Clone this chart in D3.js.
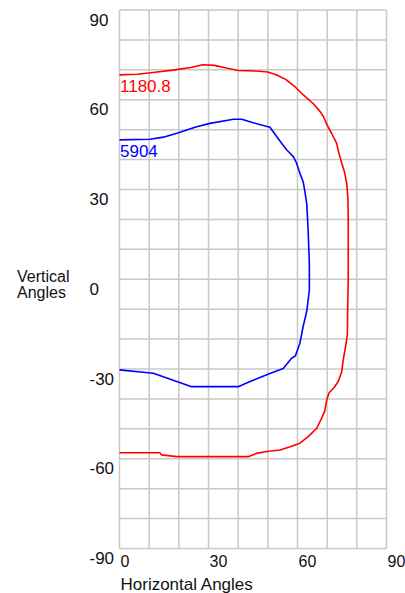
<!DOCTYPE html>
<html>
<head>
<meta charset="utf-8">
<script src="https://cdn.jsdelivr.net/npm/d3@7"></script>
<style>
  html, body { margin: 0; padding: 0; background: #fff; }
  svg { display: block; }
  text { font-family: "Liberation Sans", Arial, sans-serif; font-size: 17px; fill: #111; }
</style>
</head>
<body>
<svg id="chart" width="405" height="593"></svg>
<script>
// ---- data ----
const xTicks = [0, 30, 60, 90];
const yTicks = [90, 60, 30, 0, -30, -60, -90];
const xLabel = "Horizontal Angles";
const yLabel = ["Vertical", "Angles"];
const seriesNames = ["1180.8", "5904"];
const seriesColors = ["#ff0000", "#0000ff"];

const redH = [0, 6, 12, 18, 24, 28, 32, 36, 40, 46, 50, 53, 56, 59, 61, 63.5, 65.5, 67.5, 68.7, 70, 71.5, 73.2, 74, 75, 75.8, 76.6, 77, 77.1, 77.1, 76.9, 76.8, 76.2, 75.4, 74.9, 73.8, 72.5, 70.6, 69.8, 69.2, 68.1, 66.5, 63.6, 60.8, 57.5, 54.1, 49.6, 46.2, 43.4, 19.3, 14.2, 13.6, 0];
const redV = [68.3, 68.5, 69.2, 69.9, 70.8, 71.7, 71.5, 70.6, 69.8, 69.6, 69.3, 68.3, 66.8, 64.5, 62.5, 60.3, 58.5, 56.2, 54.5, 51.5, 48.8, 45.4, 42, 38.5, 36, 32, 27, 20, 0, -10, -18.6, -22.5, -27, -30.9, -34, -36, -38, -40.5, -44, -46.5, -49.8, -52.6, -54.8, -56, -57.1, -57.6, -58.2, -59.3, -59.3, -58.7, -58, -58];

const blueH = [0, 10.3, 14.8, 19.3, 26, 30.5, 38.4, 41.2, 45.1, 50.7, 51.8, 54.7, 56.4, 58.6, 59.7, 60.8, 61.9, 62.5, 63.1, 63.4, 63.6, 64, 64, 63.1, 61.9, 60.8, 59.3, 58, 55.2, 50.7, 44, 40, 24.3, 19.3, 11.4, 8, 0];
const blueV = [46.6, 46.8, 47.5, 48.8, 51, 52.1, 53.5, 53.5, 52.3, 50.8, 49.3, 45.4, 43.2, 41, 38.8, 35.4, 32.6, 29.3, 25.4, 20, 15.9, 5, -3.6, -10.8, -15.8, -21.4, -25.6, -26.4, -29.8, -31.5, -34.2, -35.9, -35.9, -34.2, -31.4, -31.1, -30.3];

const seriesH = [redH, blueH];
const seriesV = [redV, blueV];

// ---- layout ----
const svg = d3.select("#chart");
const x = d3.scaleLinear().domain([0, 90]).range([119.5, 386.5]);
const y = d3.scaleLinear().domain([-90, 90]).range([548.5, 10]);
const fmt = d => String(d);

// grid
const grid = svg.append("g");
grid.selectAll("line.v").data(d3.range(0, 91, 10)).join("line")
  .attr("x1", d => x(d)).attr("x2", d => x(d))
  .attr("y1", y(90)).attr("y2", y(-90))
  .attr("stroke", "#c8c8c8").attr("stroke-width", 1.5);
grid.selectAll("line.h").data(d3.range(-90, 91, 10)).join("line")
  .attr("y1", d => y(d)).attr("y2", d => y(d))
  .attr("x1", x(0)).attr("x2", x(90))
  .attr("stroke", "#c8c8c8").attr("stroke-width", 1.5);

// axes (tick labels only)
const xAxis = d3.axisBottom(x).tickValues(xTicks).tickFormat(fmt).tickSize(0).tickPadding(0);
const gx = svg.append("g").attr("transform", `translate(0,${y(-90)})`).call(xAxis);
gx.select(".domain").remove();
gx.selectAll("text").attr("text-anchor", "start").attr("dx", 0.5).attr("dy", 0).attr("y", 18)
  .style("font-family", "Liberation Sans, Arial, sans-serif").style("font-size", "16px").attr("fill", "#111");

const yAxis = d3.axisLeft(y).tickValues(yTicks).tickFormat(fmt).tickSize(0).tickPadding(0);
const gy = svg.append("g").attr("transform", `translate(${x(0)},0)`).call(yAxis);
gy.select(".domain").remove();
gy.selectAll("text").attr("text-anchor", "start").attr("x", 89.5 - x(0)).attr("dy", 0).attr("y", 15)
  .style("font-family", "Liberation Sans, Arial, sans-serif").style("font-size", "17px").attr("fill", "#111");

// axis titles
svg.append("text").attr("x", 120.5).attr("y", 590).text(xLabel);
svg.append("text").attr("x", 17).attr("y", 282).style("font-size", "16px").text(yLabel[0]);
svg.append("text").attr("x", 17).attr("y", 298).style("font-size", "16px").text(yLabel[1]);

// curves
const line = d3.line().x(d => x(d[0])).y(d => y(d[1]));
seriesH.forEach((hs, i) => {
  const pts = hs.map((h, k) => [h, seriesV[i][k]]);
  svg.append("path").datum(pts).attr("d", line)
    .attr("fill", "none").attr("stroke", seriesColors[i]).attr("stroke-width", 1.6)
    .attr("stroke-linejoin", "round");
  svg.append("text").attr("x", x(hs[0]) + 0.5).attr("y", y(seriesV[i][0]) + 17.5)
    .attr("fill", seriesColors[i]).style("fill", seriesColors[i]).text(seriesNames[i]);
});
</script>
</body>
</html>
